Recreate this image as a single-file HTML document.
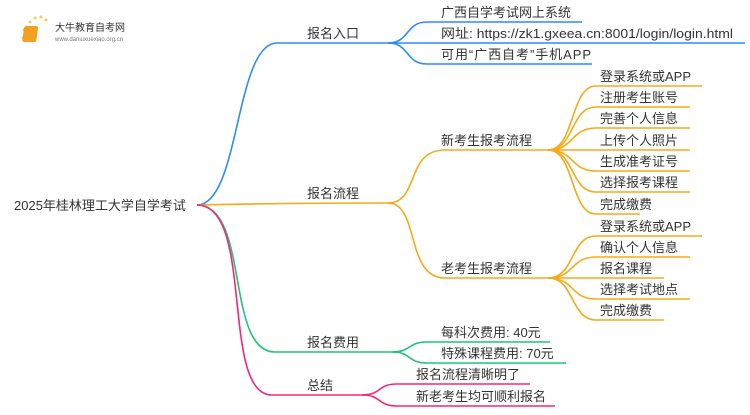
<!DOCTYPE html>
<html><head><meta charset="utf-8"><style>
html,body{margin:0;padding:0;background:#fff;}
svg text{font-family:"Liberation Sans","Noto Sans CJK SC",sans-serif;font-size:13px;fill:#333;}
</style></head><body>
<svg width="750" height="410" viewBox="0 0 750 410" xmlns="http://www.w3.org/2000/svg">
<g fill="none" stroke-width="1.6">
<g stroke="#2f8cf5">
<path d="M197,205 C240,205 235,43 277,43 L388,43"/>
<path d="M388,43 C410,43 405,22 427,22 L582,22"/>
<path d="M388,43 L745,43"/>
<path d="M388,43 C410,43 405,64 427,64 L592,64"/>
</g>
<g stroke="#f5aa18">
<path d="M197,205 C240,204 300,203 388,203"/>
<path d="M388,203 C420,203 405,150 445,150 L548,150"/>
<path d="M388,203 C420,203 405,278 445,278 L548,278"/>
<path d="M548,150 C575,150 570,86 596,86 L702,86"/>
<path d="M548,150 C575,150 570,107 596,107 L690,107"/>
<path d="M548,150 C575,150 570,128 596,128 L690,128"/>
<path d="M548,150 L690,150"/>
<path d="M548,150 C575,150 570,171 596,171 L690,171"/>
<path d="M548,150 C575,150 570,192 596,192 L690,192"/>
<path d="M548,150 C575,150 570,214 596,214 L640,214"/>
<path d="M548,278 C575,278 570,236 596,236 L702,236"/>
<path d="M548,278 C575,278 570,257 596,257 L690,257"/>
<path d="M548,278 L664,278"/>
<path d="M548,278 C575,278 570,299 596,299 L690,299"/>
<path d="M548,278 C575,278 570,320 596,320 L664,320"/>
</g>
<g stroke="#1fc47a">
<path d="M197,205 C250,205 225,352 275,352 L392,352"/>
<path d="M392,352 C412,352 407,342 427,342 L550,342"/>
<path d="M392,352 C412,352 407,363 427,363 L566,363"/>
</g>
<g stroke="#f5267a">
<path d="M197,205 C255,205 220,395 272,395 L362,395"/>
<path d="M362,395 C382,395 377,384 397,384 L530,384"/>
<path d="M362,395 C382,395 377,406 397,406 L555,406"/>
</g>
</g>
<g>
<circle cx="30" cy="22" r="1.5" fill="#f8c860"/><circle cx="35" cy="18" r="1.5" fill="#f8c860"/><circle cx="41" cy="17" r="1.5" fill="#f8c860"/><circle cx="46" cy="20" r="1.5" fill="#f8c860"/><circle cx="24" cy="30" r="1.5" fill="#f8c860"/><circle cx="23" cy="38" r="1.5" fill="#f8c860"/>
<rect x="28" y="26" width="14" height="16" rx="2" fill="#f2a020" transform="skewX(-8)"/>
<text x="55" y="31" style="font-size:10px;fill:#333">大牛教育自考网</text>
<text x="55" y="41" style="font-size:6px;fill:#777">www.daniuxuexiao.org.cn</text>
</g>
<text x="14" y="210">2025年桂林理工大学自学考试</text>
<text x="307" y="38">报名入口</text>
<text x="307" y="198">报名流程</text>
<text x="307" y="347">报名费用</text>
<text x="307" y="390">总结</text>
<text x="441" y="17">广西自学考试网上系统</text>
<text x="441" y="38" textLength="292" lengthAdjust="spacingAndGlyphs">网址: https://zk1.gxeea.cn:8001/login/login.html</text>
<text x="441" y="59" textLength="150" lengthAdjust="spacing">可用“广西自考”手机APP</text>
<text x="441" y="145">新考生报考流程</text>
<text x="441" y="273">老考生报考流程</text>
<text x="600" y="81">登录系统或APP</text>
<text x="600" y="102">注册考生账号</text>
<text x="600" y="123">完善个人信息</text>
<text x="600" y="145">上传个人照片</text>
<text x="600" y="166">生成准考证号</text>
<text x="600" y="187">选择报考课程</text>
<text x="600" y="209">完成缴费</text>
<text x="600" y="231">登录系统或APP</text>
<text x="600" y="252">确认个人信息</text>
<text x="600" y="273">报名课程</text>
<text x="600" y="294">选择考试地点</text>
<text x="600" y="315">完成缴费</text>
<text x="441" y="337">每科次费用: 40元</text>
<text x="441" y="358">特殊课程费用: 70元</text>
<text x="416" y="379">报名流程清晰明了</text>
<text x="416" y="401">新老考生均可顺利报名</text>
</svg>
</body></html>
